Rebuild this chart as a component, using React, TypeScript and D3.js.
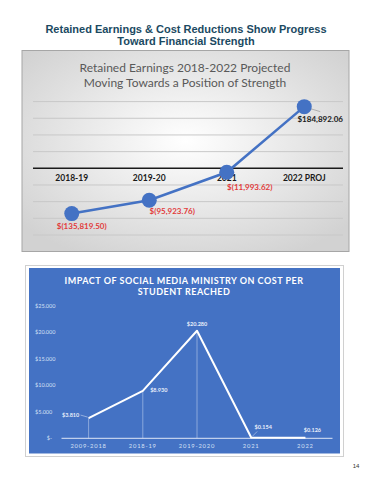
import React from "react";
import * as d3 from "d3";

// top chart: retained earnings
const reYears = ["2018-19", "2019-20", "2021", "2022 PROJ"];
const reValues = [-135819.5, -95923.76, -11993.62, 184892.06];
const reLabels = ["$(135,819.50)", "$(95,923.76)", "$(11,993.62)", "$184,892.06"];
const reGrid = [-200000, -150000, -100000, -50000, 50000, 100000, 150000, 200000];

// bottom chart: cost per student
const smYears = ["2009-2018", "2018-19", "2019-2020", "2021", "2022"];
const smValues = [3.81, 8.93, 20.28, 0.154, 0.126];
const smLabels = ["$3.810", "$8.930", "$20.280", "$0.154", "$0.126"];
const smTicks = [0, 5, 10, 15, 20, 25];
const smTickLabels = ["$-", "$5.000", "$10.000", "$15.000", "$20.000", "$25.000"];

const App = () => {
  const x1 = d3.scaleBand().domain(reYears).range([33, 343]);
  const y1 = d3.scaleLinear().domain([-200000, 200000]).range([235, 101.6]);
  const line1 = d3
    .line<number>()
    .x((d, i) => x1(reYears[i])! + x1.bandwidth() / 2)
    .y((d) => y1(d));

  const x2 = d3.scaleBand().domain(smYears).range([61.5, 332.5]);
  const y2 = d3.scaleLinear().domain([0, 25]).range([438.3, 305.7]);
  const line2 = d3
    .line<number>()
    .x((d, i) => x2(smYears[i])! + x2.bandwidth() / 2)
    .y((d) => y2(d));

  // label offsets, relative to each point
  const reOff = [
    [10, 15],
    [23, 14],
    [23, 18],
    [16, 15],
  ];
  const smOff = [
    [-18, -1],
    [16, 1],
    [0, -5],
    [12, -8],
    [7, -6],
  ];

  return (
    <svg width={354} height={472} style={{ display: "block" }}>
      <defs>
        <radialGradient id="bg" cx="50%" cy="45%" r="65%">
          <stop offset="0%" stopColor="#ffffff" />
          <stop offset="100%" stopColor="#d2d2d2" />
        </radialGradient>
      </defs>
      <g transform="translate(-8,-8)">
        <g fontFamily="'Liberation Sans', Arial, sans-serif" fontWeight="bold" fontSize={11} fill="#1b4a62" textAnchor="middle">
          <text x={186} y={33}>Retained Earnings &amp; Cost Reductions Show Progress</text>
          <text x={186} y={45}>Toward Financial Strength</text>
        </g>

        {/* top chart */}
        <rect x={22} y={50.5} width={327} height={201} fill="url(#bg)" stroke="#a6a6a6" strokeWidth={1} />
        <g fontFamily="Lato, 'Open Sans', sans-serif" fontSize={12} fill="#595959" textAnchor="middle">
          <text x={185} y={72}>Retained Earnings 2018-2022 Projected</text>
          <text x={185} y={86.5}>Moving Towards a Position of Strength</text>
        </g>
        {reGrid.map((v) => (
          <line key={v} x1={33} x2={343} y1={y1(v)} y2={y1(v)} stroke="#c8c8c8" strokeWidth={1} />
        ))}
        <line x1={33} x2={343} y1={y1(0)} y2={y1(0)} stroke="#1a1a1a" strokeWidth={1.6} />
        {reYears.map((c) => (
          <text
            key={c}
            x={x1(c)! + x1.bandwidth() / 2}
            y={y1(0) + 13}
            textAnchor="middle"
            fontFamily="Lato, sans-serif"
            fontWeight="bold"
            fontSize={8.5}
            fill="#1a1a1a"
          >
            {c}
          </text>
        ))}
        <path d={line1(reValues)!} fill="none" stroke="#4472c4" strokeWidth={2.5} />
        {reValues.map((v, i) => {
          const cx = x1(reYears[i])! + x1.bandwidth() / 2;
          const cy = y1(v);
          return (
            <g key={i}>
              {i === 3 && <line x1={cx + 6} y1={cy + 2} x2={cx + 16} y2={cy + 5} stroke="#a0a0a0" strokeWidth={0.8} />}
              <circle cx={cx} cy={cy} r={7.5} fill="#4472c4" />
              <text
                x={cx + reOff[i][0]}
                y={cy + reOff[i][1]}
                textAnchor="middle"
                fontFamily="Lato, sans-serif"
                fontWeight="bold"
                fontSize={8}
                fill={v < 0 ? "#e23b3b" : "#1a1a1a"}
              >
                {reLabels[i]}
              </text>
            </g>
          );
        })}

        {/* bottom chart */}
        <rect x={25.5} y={265.5} width={318} height={191} fill="#ffffff" stroke="#d0d0d0" strokeWidth={1} />
        <rect x={29} y={268} width={311} height={185.5} fill="#4472c4" />
        <g fontFamily="Lato, sans-serif" fontWeight="bold" fontSize={9} fill="#ffffff" textAnchor="middle" letterSpacing={0.5}>
          <text x={184} y={283.5}>IMPACT OF SOCIAL MEDIA MINISTRY ON COST PER</text>
          <text x={184} y={295}>STUDENT REACHED</text>
        </g>
        {smTicks.map((t, i) => (
          <text
            key={t}
            x={t === 0 ? 52 : 35}
            y={y2(t) + 2}
            textAnchor={t === 0 ? "end" : "start"}
            fontFamily="Lato, sans-serif"
            fontSize={5.5}
            fill="#d6e0f5"
          >
            {smTickLabels[i]}
          </text>
        ))}
        {smValues.map((v, i) => {
          const cx = x2(smYears[i])! + x2.bandwidth() / 2;
          return <line key={i} x1={cx} x2={cx} y1={y2(v)} y2={y2(0)} stroke="#a9bfe6" strokeWidth={0.7} />;
        })}
        <line x1={61.5} x2={332.5} y1={y2(0)} y2={y2(0)} stroke="#dfe7f7" strokeWidth={1} />
        {smYears.map((c) => (
          <text
            key={c}
            x={x2(c)! + x2.bandwidth() / 2}
            y={y2(0) + 10}
            textAnchor="middle"
            fontFamily="Lato, sans-serif"
            fontSize={5.8}
            letterSpacing={0.8}
            fill="#d6e0f5"
          >
            {c}
          </text>
        ))}
        <path d={line2(smValues)!} fill="none" stroke="#ffffff" strokeWidth={2} strokeLinejoin="round" />
        {smValues.map((v, i) => {
          const cx = x2(smYears[i])! + x2.bandwidth() / 2;
          const cy = y2(v);
          return (
            <g key={i}>
              {i === 0 && <line x1={cx - 8} y1={cy - 3} x2={cx - 1} y2={cy - 1} stroke="#c9d6ef" strokeWidth={0.6} />}
              {i === 3 && <line x1={cx + 1} y1={cy - 1} x2={cx + 6} y2={cy - 6} stroke="#c9d6ef" strokeWidth={0.6} />}
              <text
                x={cx + smOff[i][0]}
                y={cy + smOff[i][1]}
                textAnchor="middle"
                fontFamily="Lato, sans-serif"
                fontWeight="bold"
                fontSize={5.5}
                fill="#e8eefa"
              >
                {smLabels[i]}
              </text>
            </g>
          );
        })}

        <text x={356} y={468} textAnchor="middle" fontFamily="'Liberation Sans', sans-serif" fontSize={6} fill="#333">
          14
        </text>
      </g>
    </svg>
  );
};

export default App;
